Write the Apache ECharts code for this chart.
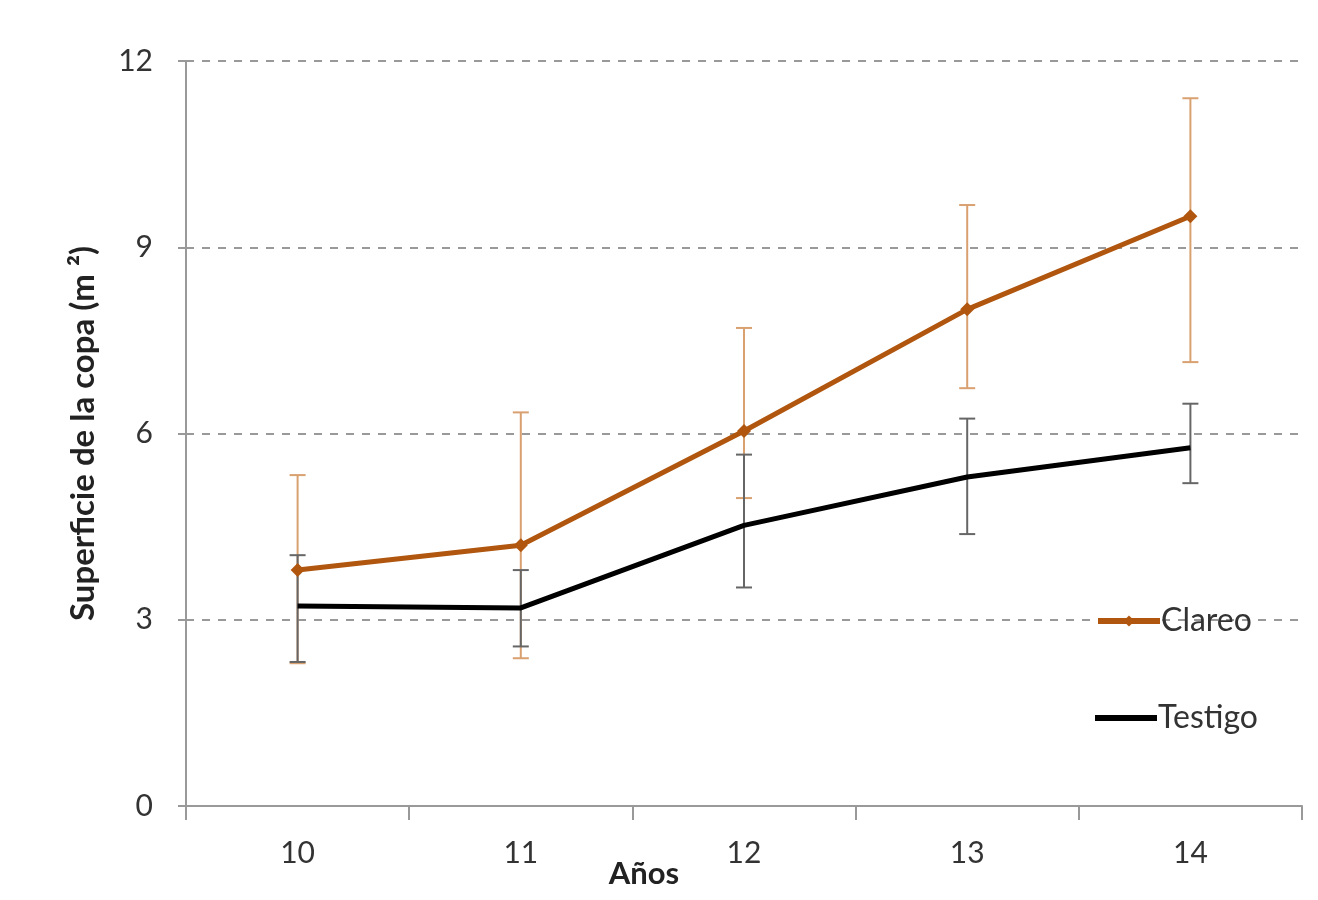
<!DOCTYPE html>
<html>
<head>
<meta charset="utf-8">
<script src="https://cdn.jsdelivr.net/npm/echarts@6/dist/echarts.min.js"></script>
<style>html,body{margin:0;padding:0;background:#fff;}#c{width:1318px;height:900px;}</style>
</head>
<body>
<div id="c"></div>
<script>
const categories = ['10', '11', '12', '13', '14'];
const yTicks = [0, 3, 6, 9, 12];
const clareo = [3.80, 4.20, 6.04, 8.00, 9.50];
const clareoLow = [2.30, 2.38, 4.96, 6.73, 7.15];
const clareoHigh = [5.33, 6.34, 7.70, 9.68, 11.40];
const testigo = [3.22, 3.19, 4.52, 5.30, 5.77];
const testigoLow = [2.32, 2.57, 3.52, 4.38, 5.20];
const testigoHigh = [4.04, 3.80, 5.66, 6.24, 6.48];

const FONT = 'Lato';
const chart = echarts.init(document.getElementById('c'));

function errData(low, high) {
  return categories.map((c, i) => [i, low[i], high[i]]);
}
function errRender(color) {
  return function (params, api) {
    const x = api.value(0);
    const lo = api.coord([x, api.value(1)]);
    const hi = api.coord([x, api.value(2)]);
    const hw = 8;
    const style = { stroke: color, lineWidth: 2 };
    return {
      type: 'group',
      children: [
        { type: 'line', shape: { x1: lo[0], y1: lo[1], x2: hi[0], y2: hi[1] }, style: style },
        { type: 'line', shape: { x1: lo[0] - hw, y1: lo[1], x2: lo[0] + hw, y2: lo[1] }, style: style },
        { type: 'line', shape: { x1: hi[0] - hw, y1: hi[1], x2: hi[0] + hw, y2: hi[1] }, style: style }
      ]
    };
  };
}

const legendText = { fontFamily: FONT, fontSize: 32, color: '#333', lineHeight: 34, padding: [0, 0, 0, -4] };

chart.setOption({
  animation: false,
  textStyle: { fontFamily: FONT },
  grid: { left: 186, right: 16, top: 61, bottom: 94, containLabel: false, outerBoundsMode: 'none' },
  legend: [
    {
      data: [{ name: 'Clareo', lineStyle: { width: 6, color: '#B0560E' } }],
      left: 1090, top: 599,
      itemWidth: 62, itemHeight: 14, itemGap: 4,
      textStyle: legendText
    },
    {
      data: [{ name: 'Testigo', icon: 'rect', itemStyle: { color: '#000' } }],
      left: 1090, top: 696,
      itemWidth: 62, itemHeight: 6, itemGap: 4,
      textStyle: legendText
    }
  ],
  xAxis: {
    type: 'category',
    data: categories,
    boundaryGap: true,
    name: 'Años',
    nameLocation: 'middle',
    nameGap: 52,
    nameMoveOverlap: false,
    nameTextStyle: { fontFamily: FONT, fontSize: 31, fontWeight: 'bold', color: '#222', padding: [0, 200, 0, 0] },
    axisLine: { lineStyle: { color: '#999', width: 2 } },
    axisTick: { show: true, length: 14, lineStyle: { color: '#999', width: 2 } },
    axisLabel: { fontFamily: FONT, fontSize: 30, color: '#333', margin: 32 },
    splitLine: { show: false }
  },
  yAxis: {
    type: 'value',
    min: 0, max: 12, interval: 3,
    name: 'Superficie de la copa (m ²)',
    nameLocation: 'middle',
    nameGap: 86,
    nameMoveOverlap: false,
    nameRotate: 90,
    nameTextStyle: { fontFamily: FONT, fontSize: 33, fontWeight: 'bold', color: '#222' },
    axisLine: { show: true, lineStyle: { color: '#999', width: 2 } },
    axisTick: { show: true, length: 8, lineStyle: { color: '#999', width: 2 } },
    axisLabel: {
      fontFamily: FONT, fontSize: 30, color: '#333', margin: 33,
      formatter: v => (yTicks.indexOf(v) >= 0 ? String(v) : '')
    },
    splitLine: { show: true, lineStyle: { color: '#999', type: [8, 8], width: 2 } }
  },
  series: [
    {
      name: 'ClareoErr', type: 'custom', data: errData(clareoLow, clareoHigh),
      renderItem: errRender('#D9A070'), z: 1, silent: true, encode: { x: 0, y: [1, 2] }
    },
    {
      name: 'TestigoErr', type: 'custom', data: errData(testigoLow, testigoHigh),
      renderItem: errRender('#666'), z: 1, silent: true, encode: { x: 0, y: [1, 2] }
    },
    {
      name: 'Clareo', type: 'line', data: clareo, z: 5,
      symbol: 'diamond', symbolSize: 14, showSymbol: true,
      lineStyle: { color: '#B0560E', width: 5 },
      itemStyle: { color: '#B0560E' }
    },
    {
      name: 'Testigo', type: 'line', data: testigo, z: 4,
      symbol: 'none',
      lineStyle: { color: '#000', width: 5 },
      itemStyle: { color: '#000' }
    }
  ]
});
</script>
</body>
</html>
